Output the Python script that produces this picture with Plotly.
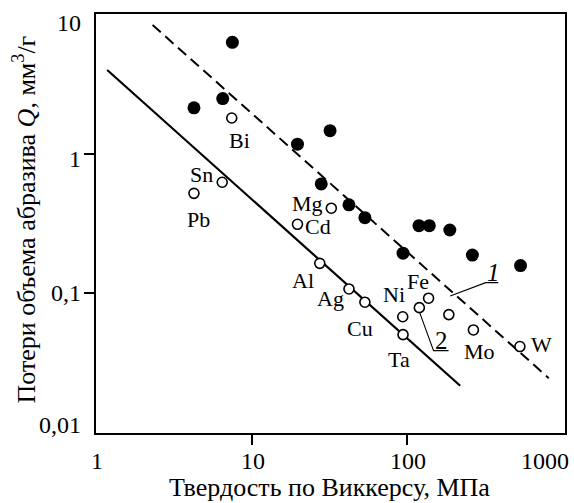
import numpy as np
import plotly.graph_objects as go

# ---- data ----
filled_x = [4.26, 6.52, 7.52, 19.7, 28.0, 31.9, 42.2, 53.4, 93.9, 118.8, 138.5, 187.6, 262, 534]
filled_y = [2.13, 2.48, 6.27, 1.17, 0.607, 1.46, 0.43, 0.348, 0.194, 0.305, 0.305, 0.284, 0.188, 0.158]

open_names = ["Pb", "Sn", "Bi", "Cd", "Al", "Mg", "Ag", "Cu", "Ni", "Ta", "", "Fe", "", "Mo", "W"]
open_x = [4.26, 6.47, 7.45, 19.7, 27.4, 32.5, 42.2, 53.4, 93.5, 93.9, 119.5, 137, 184.9, 266, 529]
open_y = [0.52, 0.624, 1.80, 0.312, 0.164, 0.407, 0.1075, 0.0864, 0.068, 0.0506, 0.079, 0.0923, 0.0704, 0.0547, 0.0416]

line2_x = [1.18, 218.7]      # solid fit line (2)
line2_y = [3.97, 0.0218]
line1_x = [2.31, 811]        # dashed fit line (1)
line1_y = [8.34, 0.0247]

leader1_x = [188.7, 318.8, 384.4]
leader1_y = [0.0958, 0.1193, 0.1193]
leader2_x = [119.5, 147.5, 184.1]
leader2_y = [0.074, 0.0389, 0.0389]

x_tick_vals = [1, 10, 100, 1000]
x_tick_text = ["1", "10", "100", "1000"]
y_tick_vals = [0.01, 0.1, 1, 10]
y_tick_text = ["0,01", "0,1", "1", "10"]

x_title = "Твердость по Виккерсу, МПа"
y_title = "Потери объема абразива <i>Q</i>, мм<sup>3</sup>/г"

# label offsets (pixels) relative to their points
label_offsets = {
    "Bi": (8, -22), "Sn": (-21, 8), "Pb": (5, -26), "Mg": (-24, 5), "Cd": (21, -2),
    "Al": (-17, -17), "Ag": (-18, -10), "Cu": (-5, -26), "Ni": (-9, 22), "Fe": (-11, 17),
    "Ta": (-4, -25), "Mo": (6, -22), "W": (22, 2),
}

FONT = "Liberation Serif, Times New Roman, serif"

fig = go.Figure()
fig.add_trace(go.Scatter(x=line2_x, y=line2_y, mode="lines",
                         line=dict(color="black", width=2.2), showlegend=False))
fig.add_trace(go.Scatter(x=line1_x, y=line1_y, mode="lines",
                         line=dict(color="black", width=2, dash="11px,6px"), showlegend=False))
fig.add_trace(go.Scatter(x=leader1_x, y=leader1_y, mode="lines",
                         line=dict(color="black", width=1.1), showlegend=False))
fig.add_trace(go.Scatter(x=leader2_x, y=leader2_y, mode="lines",
                         line=dict(color="black", width=1.1), showlegend=False))
fig.add_trace(go.Scatter(x=filled_x, y=filled_y, mode="markers",
                         marker=dict(size=13, color="black", line=dict(width=0)),
                         showlegend=False))
fig.add_trace(go.Scatter(x=open_x, y=open_y, mode="markers",
                         marker=dict(size=10, color="white", line=dict(width=1.6, color="black")),
                         showlegend=False))

ann = []
for name, xv, yv in zip(open_names, open_x, open_y):
    if not name:
        continue
    dx, dy = label_offsets[name]
    ann.append(dict(x=np.log10(xv), y=np.log10(yv), xref="x", yref="y", text=name,
                    showarrow=False, xanchor="center", yanchor="middle",
                    xshift=dx, yshift=dy, font=dict(family=FONT, size=22, color="black")))

# line labels 1 and 2
ann.append(dict(x=np.log10(357), y=np.log10(0.1193), xref="x", yref="y", text="<i>1</i>",
                showarrow=False, xanchor="center", yanchor="middle", yshift=10,
                font=dict(family=FONT, size=25, color="black")))
ann.append(dict(x=np.log10(165.3), y=np.log10(0.0389), xref="x", yref="y", text="2",
                showarrow=False, xanchor="center", yanchor="middle", yshift=10,
                font=dict(family=FONT, size=25, color="black")))

# x tick labels
for v, t in zip(x_tick_vals, x_tick_text):
    if v == 1000:
        ann.append(dict(x=1, xref="paper", y=0, yref="paper", text=t, showarrow=False,
                        xanchor="right", yanchor="middle", xshift=6, yshift=-28,
                        font=dict(family=FONT, size=24, color="black")))
    else:
        ann.append(dict(x=np.log10(v), xref="x", y=0, yref="paper", text=t, showarrow=False,
                        xanchor="center", yanchor="middle", xshift=1, yshift=-28,
                        font=dict(family=FONT, size=24, color="black")))
# y tick labels
y_shifts = {0.01: 8, 0.1: 0, 1: -5, 10: -9}
for v, t in zip(y_tick_vals, y_tick_text):
    ann.append(dict(x=0, xref="paper", y=np.log10(v), yref="y", text=t, showarrow=False,
                    xanchor="right", yanchor="middle", xshift=-13, yshift=y_shifts[v],
                    font=dict(family=FONT, size=24, color="black")))

# axis titles
ann.append(dict(x=0.5, xref="paper", y=0, yref="paper", text=x_title, showarrow=False,
                xanchor="center", yanchor="middle", xshift=-1, yshift=-54,
                font=dict(family=FONT, size=26, color="black")))
ann.append(dict(x=0, xref="paper", y=0.5, yref="paper", text=y_title, showarrow=False,
                xanchor="center", yanchor="middle", xshift=-71, yshift=4, textangle=-90,
                font=dict(family=FONT, size=26, color="black")))

fig.update_layout(
    width=574, height=503,
    margin=dict(l=96, r=7, t=14, b=70),
    paper_bgcolor="white", plot_bgcolor="white",
    annotations=ann,
    showlegend=False,
)
fig.update_xaxes(type="log", range=[0, np.log10(1031)], showgrid=False, zeroline=False,
                 showline=True, mirror=True, linecolor="black", linewidth=2,
                 ticks="outside", ticklen=10, tickwidth=2, tickcolor="black",
                 tickvals=[10, 100], showticklabels=False)
fig.update_yaxes(type="log", range=[-2, 1], showgrid=False, zeroline=False,
                 showline=True, mirror=True, linecolor="black", linewidth=2,
                 ticks="outside", ticklen=10, tickwidth=2, tickcolor="black",
                 tickvals=[0.1, 1], showticklabels=False)

fig.write_html("out.html")
